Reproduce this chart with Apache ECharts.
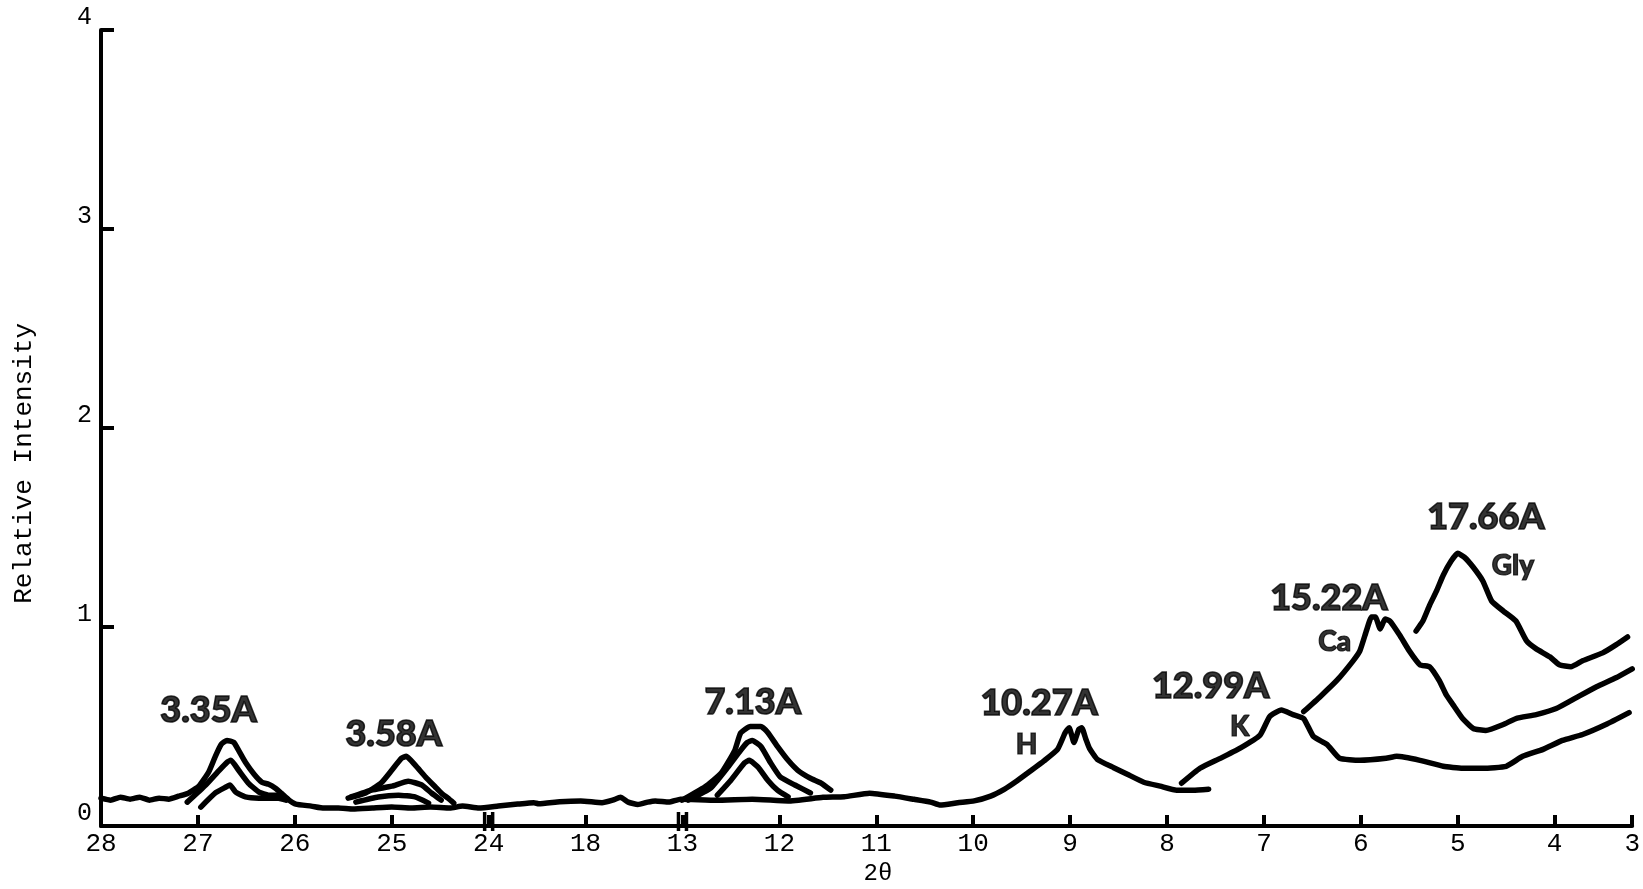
<!DOCTYPE html>
<html><head><meta charset="utf-8">
<script src="https://cdn.jsdelivr.net/npm/echarts@6/dist/echarts.min.js"></script>
<style>html,body{margin:0;padding:0;background:#fff}#c{width:1643px;height:889px}</style>
</head><body><div id="c"></div>
<script>
// ---- DATA ----
// 2θ tick labels of the broken / compressed axis (left to right)
const tickLabels = [28,27,26,25,24,18,13,12,11,10,9,8,7,6,5,4,3];
const yTickValues = [0,1,2,3,4];

// traces: [2θ, relative intensity]
const traceMain = [[28.0,.14],[27.9,.13],[27.8,.145],[27.7,.135],[27.6,.145],[27.5,.13],[27.4,.14],[27.3,.135],[27.2,.15],[27.1,.165],[26.99,.20],[26.89,.27],[26.82,.35],[26.76,.41],[26.70,.43],[26.63,.42],[26.58,.38],[26.51,.32],[26.42,.26],[26.34,.22],[26.27,.21],[26.20,.19],[26.14,.165],[26.06,.13],[25.99,.11],[25.83,.10],[25.7,.09],[25.55,.09],[25.4,.085],[25.2,.09],[25.0,.095],[24.8,.09],[24.6,.095],[24.4,.09],[24.27,.10],[24.1,.09],[23.4,.10],[22.2,.11],[21.2,.117],[20.9,.112],[19.6,.122],[18.3,.126],[17.15,.117],[16.6,.13],[16.2,.144],[15.8,.12],[15.3,.108],[14.8,.12],[14.4,.126],[13.7,.12],[13.1,.135],[12.65,.13],[12.28,.135],[11.91,.126],[11.55,.144],[11.33,.147],[11.07,.165],[10.81,.15],[10.61,.134],[10.44,.12],[10.34,.105],[10.16,.117],[9.99,.126],[9.82,.15],[9.68,.184],[9.55,.226],[9.41,.276],[9.27,.327],[9.13,.385],[9.05,.47],[9.01,.494],[8.96,.42],[8.91,.486],[8.88,.494],[8.84,.44],[8.80,.39],[8.72,.335],[8.55,.293],[8.41,.26],[8.24,.22],[8.07,.20],[7.90,.18],[7.73,.18],[7.57,.185]];
const trace335b = [[27.11,.12],[26.92,.206],[26.78,.28],[26.70,.32],[26.66,.33],[26.58,.28],[26.48,.216],[26.37,.17],[26.27,.155],[26.17,.155],[26.09,.14]];
const trace335c = [[26.97,.095],[26.82,.166],[26.71,.196],[26.67,.206],[26.61,.17],[26.51,.146],[26.37,.14],[26.17,.14],[26.09,.13]];
const trace358a = [[25.45,.14],[25.27,.166],[25.11,.216],[25.0,.28],[24.9,.34],[24.85,.35],[24.76,.307],[24.65,.246],[24.55,.196],[24.49,.166],[24.42,.14],[24.36,.115]];
const trace358b = [[25.42,.146],[25.21,.18],[25.0,.20],[24.83,.225],[24.69,.206],[24.59,.166],[24.49,.13]];
const trace358c = [[25.37,.12],[25.14,.146],[24.93,.155],[24.76,.146],[24.62,.115]];
const trace713a = [[13.02,.13],[12.77,.196],[12.60,.266],[12.46,.38],[12.40,.467],[12.30,.50],[12.19,.50],[12.12,.47],[12.02,.40],[11.91,.33],[11.81,.28],[11.68,.24],[11.57,.216],[11.47,.18]];
const trace713b = [[12.94,.13],[12.71,.19],[12.53,.296],[12.40,.38],[12.33,.42],[12.28,.43],[12.19,.40],[12.09,.317],[11.99,.246],[11.84,.206],[11.68,.166]];
const trace713c = [[12.64,.155],[12.50,.23],[12.36,.317],[12.31,.33],[12.22,.296],[12.12,.23],[12.02,.18],[11.91,.146]];
const traceK = [[7.85,.215],[7.66,.29],[7.45,.34],[7.25,.39],[7.04,.457],[6.94,.55],[6.82,.583],[6.70,.56],[6.59,.54],[6.49,.45],[6.35,.41],[6.22,.34],[6.01,.33],[5.74,.34],[5.63,.35],[5.39,.33],[5.15,.30],[4.95,.29],[4.74,.29],[4.50,.30],[4.33,.35],[4.12,.385],[3.90,.43],[3.64,.46],[3.34,.51],[3.04,.57]];
const traceCa = [[6.59,.575],[6.42,.65],[6.25,.73],[6.08,.83],[6.01,.88],[5.94,.985],[5.89,1.05],[5.85,1.05],[5.80,.99],[5.75,1.04],[5.70,1.03],[5.60,.96],[5.50,.88],[5.39,.81],[5.29,.80],[5.19,.73],[5.12,.66],[5.05,.61],[4.95,.54],[4.84,.49],[4.71,.48],[4.53,.51],[4.40,.54],[4.19,.56],[3.98,.59],[3.72,.645],[3.46,.70],[3.21,.745],[3.0,.79]];
const traceGly = [[5.43,.98],[5.36,1.03],[5.29,1.11],[5.22,1.18],[5.15,1.26],[5.07,1.33],[5.0,1.37],[4.93,1.35],[4.84,1.30],[4.74,1.23],[4.65,1.13],[4.53,1.08],[4.40,1.03],[4.29,.93],[4.19,.89],[4.05,.85],[3.94,.81],[3.79,.80],[3.64,.83],[3.38,.87],[3.21,.91],[3.06,.95]];

// annotations: [text, 2θ, intensity]
const peakLabels = [['3.35A',26.89,.583],['3.58A',24.98,.46],['7.13A',12.275,.623],['10.27A',9.32,.618],['12.99A',7.55,.70],['15.22A',6.33,1.146],['17.66A',4.71,1.553]];
const phaseLabels = [['H',9.45,.407],['K',7.25,.497],['Ca',6.27,.925],['Gly',4.43,1.307]];
const axisBreaks = [24,13];

// ---- AXIS MAPPING (broken, compressed 2θ axis) ----
const tickPos = tickLabels.map((t,i)=> i < tickLabels.length-1 ? i : i-1+0.8);
function toPos(t){
  for(let i=0;i<tickLabels.length-1;i++){
    const a=tickLabels[i], b=tickLabels[i+1];
    if(t<=a && t>=b){ return tickPos[i] + (a-t)/(a-b)*(tickPos[i+1]-tickPos[i]); }
  }
  return t>tickLabels[0]?tickPos[0]:tickPos[tickPos.length-1];
}
function labelFor(v){
  for(let i=0;i<tickPos.length;i++){ if(Math.abs(tickPos[i]-v)<1e-6) return String(tickLabels[i]); }
  return '';
}
const mapTrace = tr => tr.map(d=>[toPos(d[0]), d[1]]);

const traces = [traceMain,trace335b,trace335c,trace358a,trace358b,trace358c,trace713a,trace713b,trace713c,traceK,traceCa,traceGly];
const lineSeries = traces.map(tr=>({
  type:'line', data:mapTrace(tr), showSymbol:false, symbol:'none', smooth:0.15,
  lineStyle:{color:'#000', width:5.5, cap:'round', join:'round'}, silent:true, z:3
}));

const mono = '"Liberation Mono","DejaVu Sans Mono",monospace';
const heavy = 'Lato, "Noto Sans", sans-serif';
const chart = echarts.init(document.getElementById('c'), null, {renderer:'canvas'});
chart.setOption({
  animation:false,
  backgroundColor:'#fff',
  grid:{left:101, right:7, top:30, bottom:63},
  xAxis:{
    type:'value', min:0, max:tickPos[tickPos.length-1], interval:1,
    axisLine:{show:true, lineStyle:{color:'#000', width:4}},
    axisTick:{show:true, inside:true, length:11, lineStyle:{color:'#000', width:4}},
    axisLabel:{formatter:labelFor, fontFamily:mono, fontSize:26, color:'#000', margin:5, showMinLabel:true, showMaxLabel:true},
    splitLine:{show:false}
  },
  yAxis:{
    type:'value', min:yTickValues[0], max:yTickValues[yTickValues.length-1], interval:1,
    axisLine:{show:true, lineStyle:{color:'#000', width:4}},
    axisTick:{show:true, inside:true, length:13, lineStyle:{color:'#000', width:4}},
    axisLabel:{fontFamily:mono, fontSize:25, color:'#000', margin:9, verticalAlign:'bottom'},
    splitLine:{show:false}
  },
  graphic:[
    {type:'text', left:11, top:323, rotation:Math.PI/2, style:{text:'Relative Intensity', font:'26px "Liberation Mono", monospace', fill:'#000'}, silent:true},
    {type:'text', x:878, y:874, style:{text:'2θ', font:'24px "Liberation Mono", monospace', fill:'#000', align:'center', verticalAlign:'middle'}, silent:true}
  ],
  series: lineSeries.concat([
    {type:'scatter', symbolSize:0, silent:true, z:5,
     data:peakLabels.map(d=>({name:d[0], value:[toPos(d[1]), d[2]]})),
     label:{show:true, position:'inside', formatter:p=>p.name, fontFamily:heavy, fontWeight:900, fontSize:36, color:'#000', textBorderColor:'#000', textBorderWidth:1.6}},
    {type:'scatter', symbolSize:0, silent:true, z:5,
     data:phaseLabels.map(d=>({name:d[0], value:[toPos(d[1]), d[2]]})),
     label:{show:true, position:'inside', formatter:p=>p.name, fontFamily:heavy, fontWeight:900, fontSize:28, color:'#000', textBorderColor:'#000', textBorderWidth:1.2}},
    {type:'custom', silent:true, z:6, data:axisBreaks.map(t=>[toPos(t),0]),
     renderItem:(params, api)=>{
       const pt = api.coord([api.value(0), api.value(1)]);
       return {type:'group', children:[-4,4].map(dx=>({type:'line', shape:{x1:pt[0]+dx, y1:pt[1]-14, x2:pt[0]+dx, y2:pt[1]+5}, style:{stroke:'#000', lineWidth:3.5}}))};
     }}
  ])
});
</script>
</body></html>
